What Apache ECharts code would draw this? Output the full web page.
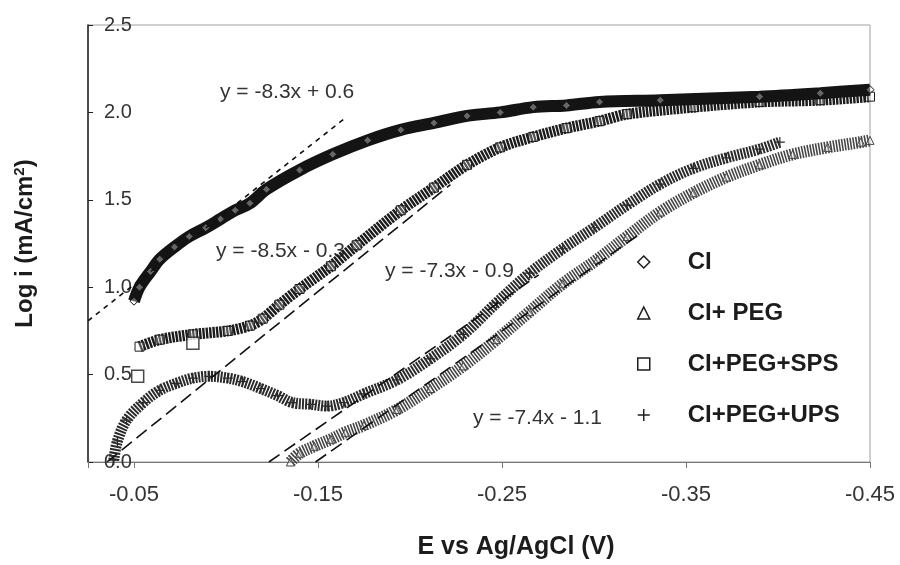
<!DOCTYPE html>
<html>
<head>
<meta charset="utf-8">
<title>Log i vs E</title>
<script src="https://cdn.jsdelivr.net/npm/echarts@6/dist/echarts.min.js"></script>
<style>
  html, body { margin: 0; padding: 0; background: #fff; }
  #chart { width: 900px; height: 565px; }
</style>
</head>
<body>
<div id="chart"></div>
<script>
// Polarisation curves: potential E (V vs Ag/AgCl) against log current density.
const xTickLabels = ['-0.05', '-0.15', '-0.25', '-0.35', '-0.45'];
const yTickLabels = ['0.0', '0.5', '1.0', '1.5', '2.0', '2.5'];

const seriesNames = ['CI', 'CI+ PEG', 'CI+PEG+SPS', 'CI+PEG+UPS'];

// CI
const ciE = [-0.050, -0.053, -0.059, -0.064, -0.072, -0.080, -0.089, -0.097, -0.105, -0.113, -0.122, -0.140, -0.158, -0.177, -0.195, -0.213, -0.231, -0.249, -0.267, -0.285, -0.303, -0.336, -0.390, -0.423, -0.450];
const ciLogI = [0.92, 1.00, 1.09, 1.16, 1.23, 1.29, 1.34, 1.39, 1.44, 1.48, 1.56, 1.67, 1.76, 1.84, 1.90, 1.94, 1.98, 2.00, 2.03, 2.04, 2.06, 2.07, 2.09, 2.11, 2.13];

// CI + PEG
const pegE = [-0.135, -0.140, -0.148, -0.157, -0.165, -0.175, -0.193, -0.211, -0.229, -0.247, -0.265, -0.283, -0.302, -0.318, -0.336, -0.354, -0.372, -0.390, -0.408, -0.427, -0.445, -0.450];
const pegLogI = [0.00, 0.05, 0.09, 0.13, 0.17, 0.21, 0.30, 0.42, 0.55, 0.70, 0.86, 1.02, 1.16, 1.29, 1.43, 1.54, 1.63, 1.70, 1.76, 1.80, 1.83, 1.84];

// CI + PEG + SPS
const spsE = [-0.053, -0.064, -0.082, -0.101, -0.113, -0.120, -0.129, -0.140, -0.157, -0.171, -0.195, -0.213, -0.231, -0.249, -0.267, -0.285, -0.303, -0.318, -0.354, -0.390, -0.423, -0.450];
const spsLogI = [0.66, 0.70, 0.73, 0.75, 0.78, 0.82, 0.90, 0.99, 1.12, 1.24, 1.44, 1.57, 1.70, 1.80, 1.86, 1.91, 1.95, 1.99, 2.03, 2.06, 2.07, 2.09];
// first two SPS readings sit apart from the rest of the sweep
const spsStrayE = [-0.052, -0.082];
const spsStrayLogI = [0.49, 0.68];

// CI + PEG + UPS
const upsE = [-0.039, -0.041, -0.046, -0.055, -0.064, -0.073, -0.082, -0.091, -0.101, -0.109, -0.119, -0.128, -0.136, -0.146, -0.155, -0.164, -0.175, -0.193, -0.211, -0.229, -0.247, -0.265, -0.283, -0.300, -0.318, -0.336, -0.354, -0.372, -0.390, -0.401];
const upsLogI = [0.01, 0.12, 0.24, 0.34, 0.41, 0.45, 0.48, 0.49, 0.48, 0.46, 0.42, 0.38, 0.34, 0.33, 0.32, 0.34, 0.39, 0.47, 0.59, 0.73, 0.91, 1.08, 1.22, 1.34, 1.47, 1.59, 1.68, 1.74, 1.79, 1.83];

// Tafel fits: y = slope * x + intercept, drawn over [start, fitTo]
const fitLabels = ['y = -8.3x + 0.6', 'y = -8.5x - 0.3', 'y = -7.3x - 0.9', 'y = -7.4x - 1.1'];
const fitSlope = [-8.3, -8.5, -7.3, -7.4];
const fitIntercept = [0.6, -0.3, -0.9, -1.1];
const fitTo = [-0.165, -0.222, -0.270, -0.325];

const X_MIN = -0.45, X_MAX = -0.025;

const zip = (xs, ys) => xs.map((x, i) => [x, ys[i]]);
const FONT = '"Liberation Sans", Arial, Helvetica, sans-serif';
const INK = '#1c1c1c';

const fitSeries = fitSlope.map((m, i) => {
  const b = fitIntercept[i];
  const start = Math.min(X_MAX, -b / m);
  const end = fitTo[i];
  return {
    type: 'line',
    data: [[start, m * start + b], [end, m * end + b]],
    symbol: 'none',
    silent: true,
    z: 10,
    lineStyle: { color: '#111', width: 1.6, type: i === 0 ? [5, 5] : [13, 6] }
  };
});

const plusPath = 'path://M4.4,0h1.2v4.4h4.4v1.2h-4.4v4.4h-1.2v-4.4h-4.4v-1.2h4.4z';
const hollow = { color: '#fff', borderColor: INK, borderWidth: 1.5 };

const chart = echarts.init(document.getElementById('chart'));
chart.setOption({
  animation: false,
  backgroundColor: '#fff',
  textStyle: { fontFamily: FONT },
  grid: { left: 88, right: 30, top: 25, bottom: 102, show: true, borderColor: '#a0a0a0', borderWidth: 1 },
  xAxis: {
    type: 'value',
    inverse: true,
    min: X_MIN,
    max: X_MAX,
    interval: 0.1,
    name: 'E vs Ag/AgCl (V)',
    nameLocation: 'middle',
    nameGap: 73,
    nameTextStyle: { fontSize: 25, fontWeight: 'bold', color: INK, fontFamily: FONT, padding: [0, 0, 0, 74] },
    axisLine: { onZero: false, lineStyle: { color: '#777', width: 1 } },
    axisTick: { length: 6, lineStyle: { color: '#777' } },
    splitLine: { show: false },
    axisLabel: {
      fontSize: 22, color: '#333', margin: 22, fontFamily: FONT,
      formatter: v => { const s = v.toFixed(2); return xTickLabels.includes(s) ? s : ''; }
    }
  },
  yAxis: {
    type: 'value',
    min: 0,
    max: 2.5,
    interval: 0.5,
    name: 'Log i (mA/cm{sup|2})',
    nameLocation: 'middle',
    nameGap: 49,
    nameRotate: 90,
    nameTextStyle: {
      fontSize: 24, fontWeight: 'bold', color: INK, fontFamily: FONT,
      rich: { sup: { fontSize: 15, fontWeight: 'bold', color: INK, fontFamily: FONT, verticalAlign: 'top', padding: [0, 0, 12, 0] } }
    },
    axisLine: { onZero: false, lineStyle: { color: '#222', width: 1.5 } },
    axisTick: { inside: true, length: 5, lineStyle: { color: '#222' } },
    splitLine: { show: false },
    axisLabel: {
      inside: true, margin: 16, fontSize: 20, color: '#333', fontFamily: FONT,
      formatter: v => yTickLabels[Math.round(v / 0.5)] || ''
    }
  },
  legend: {
    orient: 'vertical',
    left: 632,
    top: 245,
    itemWidth: 12,
    itemHeight: 12,
    itemGap: 27,
    selectedMode: false,
    formatter: name => '{n|' + name + '}',
    textStyle: {
      fontSize: 24, fontWeight: 'bold', color: INK, fontFamily: FONT,
      rich: { n: { fontSize: 24, fontWeight: 'bold', color: INK, fontFamily: FONT, padding: [0, 0, 0, 33] } }
    },
    data: [
      { name: seriesNames[0], icon: 'diamond', itemStyle: hollow },
      { name: seriesNames[1], icon: 'triangle', itemStyle: hollow },
      { name: seriesNames[2], icon: 'rect', itemStyle: hollow },
      { name: seriesNames[3], icon: plusPath, itemStyle: { color: INK, borderWidth: 0 } }
    ]
  },
  graphic: [
    { type: 'text', left: 220, top: 82, style: { text: fitLabels[0], font: '21px ' + FONT, fill: '#333' } },
    { type: 'text', left: 216, top: 241, style: { text: fitLabels[1], font: '21px ' + FONT, fill: '#333' } },
    { type: 'text', left: 385, top: 261, style: { text: fitLabels[2], font: '21px ' + FONT, fill: '#333' } },
    { type: 'text', left: 473, top: 408, style: { text: fitLabels[3], font: '21px ' + FONT, fill: '#333' } }
  ],
  series: [
    {
      name: seriesNames[1], type: 'line', data: zip(pegE, pegLogI), smooth: 0.35,
      symbol: 'triangle', symbolSize: 8, z: 3,
      lineStyle: { color: '#454545', width: 12, type: [1.6, 1.3] },
      itemStyle: { color: 'rgba(255,255,255,0.3)', borderColor: '#454545', borderWidth: 1 }
    },
    {
      name: seriesNames[3], type: 'line', data: zip(upsE, upsLogI), smooth: 0.35,
      symbol: plusPath, symbolSize: 10, z: 3,
      lineStyle: { color: '#2a2a2a', width: 11, type: [2, 1.2] },
      itemStyle: { color: '#2a2a2a' }
    },
    {
      name: seriesNames[2], type: 'line', data: zip(spsE, spsLogI), smooth: 0.3,
      symbol: 'rect', symbolSize: 9, z: 4,
      lineStyle: { color: '#1c1c1c', width: 11, type: [2.4, 1] },
      itemStyle: { color: 'rgba(255,255,255,0.25)', borderColor: '#1c1c1c', borderWidth: 1 }
    },
    {
      name: seriesNames[2], type: 'scatter', data: zip(spsStrayE, spsStrayLogI),
      symbol: 'rect', symbolSize: 12, z: 4,
      itemStyle: { color: '#fff', borderColor: INK, borderWidth: 1.5 }
    },
    {
      name: seriesNames[0], type: 'line', data: zip(ciE, ciLogI), smooth: 0.35,
      symbol: 'diamond', symbolSize: 8, z: 5,
      lineStyle: { color: '#141414', width: 12 },
      itemStyle: { color: 'rgba(255,255,255,0.35)', borderColor: '#141414', borderWidth: 1 }
    }
  ].concat(fitSeries)
});
</script>
</body>
</html>
